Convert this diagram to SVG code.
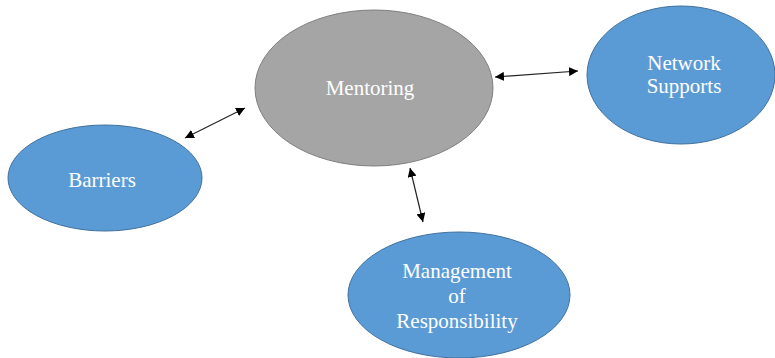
<svg xmlns="http://www.w3.org/2000/svg" width="775" height="358" viewBox="0 0 775 358">
  <style>
    .blue { fill: #5B9BD5; stroke: #41719C; stroke-width: 1; }
    .gray { fill: #A5A5A5; stroke: #7F7F7F; stroke-width: 1; }
    .label { font-family: "Liberation Serif", "Times New Roman", serif; font-size: 21px; fill: #FFFFFF; text-anchor: middle; }
    .link { stroke: #222222; stroke-width: 1.2; fill: none; marker-start: url(#head); marker-end: url(#head); }
  </style>
  <defs>
    <marker id="head" viewBox="0 0 10 10" refX="10" refY="5" markerWidth="9" markerHeight="9" markerUnits="userSpaceOnUse" orient="auto-start-reverse">
      <path d="M0,0 L10,5 L0,10 z" fill="#000000"/>
    </marker>
  </defs>
  <rect width="775" height="358" fill="#FFFFFF"/>

  <g id="mentoring">
    <ellipse class="gray" cx="374" cy="88" rx="119" ry="78"/>
    <text class="label" x="370" y="95">Mentoring</text>
  </g>

  <g id="network-supports">
    <ellipse class="blue" cx="681" cy="75" rx="94" ry="69"/>
    <text class="label" x="684" y="70">Network</text>
    <text class="label" x="684" y="93">Supports</text>
  </g>

  <g id="barriers">
    <ellipse class="blue" cx="105" cy="178" rx="97" ry="53"/>
    <text class="label" x="102" y="187">Barriers</text>
  </g>

  <g id="management">
    <ellipse class="blue" cx="459" cy="295" rx="111" ry="63"/>
    <text class="label" x="457" y="278">Management</text>
    <text class="label" x="457" y="303">of</text>
    <text class="label" x="457" y="328">Responsibility</text>
  </g>

  <g id="connectors">
    <line class="link" x1="495" y1="77" x2="578" y2="71"/>
    <line class="link" x1="185" y1="138" x2="245" y2="108"/>
    <line class="link" x1="410" y1="168" x2="423" y2="222"/>
  </g>
</svg>
